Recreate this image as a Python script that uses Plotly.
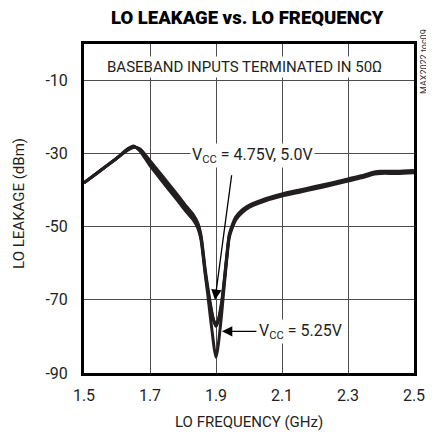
import plotly.graph_objects as go

FONT = "Roboto, Liberation Sans, sans-serif"
INK = "#231f20"

# LO frequency (GHz)
FREQ = [1.50, 1.55, 1.60, 1.63, 1.65, 1.67, 1.70, 1.74, 1.78, 1.81, 1.83, 1.845,
        1.855, 1.867, 1.875, 1.882, 1.89, 1.895, 1.90, 1.905, 1.91, 1.918, 1.925,
        1.933, 1.94, 1.95, 1.96, 1.98, 2.00, 2.05, 2.10, 2.15, 2.20, 2.25, 2.30,
        2.35, 2.38, 2.40, 2.45, 2.50]

# LO leakage (dBm) per supply voltage
LEAK_475 = [-38.0, -34.6, -31.2, -29.2, -28.3, -28.7, -31.9, -36.4, -40.9, -44.4, -46.5, -49.0,
            -52.5, -61.5, -66.5, -70.5, -74.5, -76.3, -77.2, -76.3, -74.3, -70.0, -64.5,
            -57.5, -52.2, -49.3, -47.3, -45.3, -44.1, -42.3, -41.0, -40.0, -39.0, -38.0, -36.9,
            -35.8, -35.0, -34.8, -34.8, -34.6]
LEAK_500 = [-38.0, -34.6, -31.2, -29.0, -28.1, -28.9, -32.6, -37.2, -41.7, -45.2, -47.3, -49.8,
            -53.2, -62.2, -67.2, -71.2, -74.8, -76.0, -76.6, -76.0, -74.6, -70.4, -65.0,
            -58.0, -52.6, -49.7, -47.7, -45.7, -44.4, -42.6, -41.3, -40.3, -39.3, -38.3, -37.2,
            -36.1, -35.3, -35.1, -35.1, -34.9]
LEAK_525 = [-38.0, -34.6, -31.2, -28.8, -27.9, -29.3, -33.3, -37.9, -42.4, -45.9, -48.0, -50.4,
            -53.8, -62.8, -68.5, -74.0, -80.0, -83.5, -85.7, -83.5, -80.0, -73.0, -66.0,
            -58.6, -53.0, -50.1, -48.1, -46.1, -44.7, -42.9, -41.6, -40.6, -39.6, -38.6, -37.5,
            -36.4, -35.6, -35.4, -35.4, -35.2]

X_TICKS = [1.5, 1.7, 1.9, 2.1, 2.3, 2.5]
Y_TICKS = [-90, -70, -50, -30, -10]

fig = go.Figure()
for name, vals in [("4.75V", LEAK_475), ("5.0V", LEAK_500), ("5.25V", LEAK_525)]:
    fig.add_trace(go.Scatter(x=FREQ, y=vals, mode="lines", name=name,
                             line=dict(color=INK, width=3, shape="spline", smoothing=0.6)))

fig.update_xaxes(
    range=[1.5, 2.5], tickvals=X_TICKS, ticktext=[f"{v:.1f}" for v in X_TICKS],
    showgrid=True, gridcolor="#4d4d4d", gridwidth=1, zeroline=False,
    showline=True, linecolor="black", linewidth=3, mirror=True,
    ticks="", ticklabelstandoff=6, tickfont=dict(family=FONT, size=16, color=INK),
)
fig.update_yaxes(
    range=[-90, 0], tickvals=Y_TICKS, ticktext=[str(v) for v in Y_TICKS],
    showgrid=True, gridcolor="#4d4d4d", gridwidth=1, zeroline=False,
    showline=True, linecolor="black", linewidth=3, mirror=True,
    ticks="", ticklabelstandoff=10, tickfont=dict(family=FONT, size=16, color=INK),
)

fig.add_annotation(text="LO LEAKAGE vs. LO FREQUENCY", xref="paper", yref="paper",
                   x=0.495, y=1.079, yanchor="middle", showarrow=False,
                   font=dict(family=FONT, size=18.5, color="black", weight=900))
fig.add_annotation(text="BASEBAND INPUTS TERMINATED IN 50Ω", xref="paper", yref="paper",
                   x=0.486, y=0.929, yanchor="middle", showarrow=False, bgcolor="white",
                   font=dict(family=FONT, size=15, color=INK))
fig.add_annotation(text="MAX2022 toc09", xref="paper", yref="paper", x=1.03, y=0.948,
                   textangle=-90, showarrow=False, xanchor="center", yanchor="middle",
                   font=dict(family=FONT, size=9, color="#333"))
fig.add_annotation(text="LO FREQUENCY (GHz)", xref="paper", yref="paper", x=0.5, y=-0.149,
                   yanchor="middle", showarrow=False, font=dict(family=FONT, size=15, color=INK))
fig.add_annotation(text="LO LEAKAGE (dBm)", xref="paper", yref="paper", x=-0.197, y=0.517,
                   textangle=-90, xanchor="center", yanchor="middle", showarrow=False,
                   font=dict(family=FONT, size=15, color=INK))

# callouts
fig.add_annotation(text="V<sub>CC</sub> = 4.75V, 5.0V", x=2.012, y=-30.5, showarrow=False,
                   bgcolor="white", font=dict(family=FONT, size=16, color=INK))
fig.add_annotation(text="", x=1.897, y=-70.0, ax=1.948, ay=-35.5, axref="x", ayref="y",
                   showarrow=True, arrowhead=2, arrowsize=1.6, arrowwidth=1.3, arrowcolor="black")
fig.add_annotation(text="V<sub>CC</sub> = 5.25V", x=2.155, y=-78.6, showarrow=False,
                   bgcolor="white", font=dict(family=FONT, size=16, color=INK))
fig.add_annotation(text="", x=1.918, y=-78.6, ax=2.027, ay=-78.6, axref="x", ayref="y",
                   showarrow=True, arrowhead=2, arrowsize=1.6, arrowwidth=1.3, arrowcolor="black")

# page body adds an 8px offset, so margins are shifted to land the plot where the reference has it
fig.update_layout(
    width=434, height=434, showlegend=False,
    margin=dict(l=76, r=28, t=36, b=69),
    plot_bgcolor="white", paper_bgcolor="white",
    font=dict(family=FONT, size=16, color=INK),
)
fig.write_html("out.html")
